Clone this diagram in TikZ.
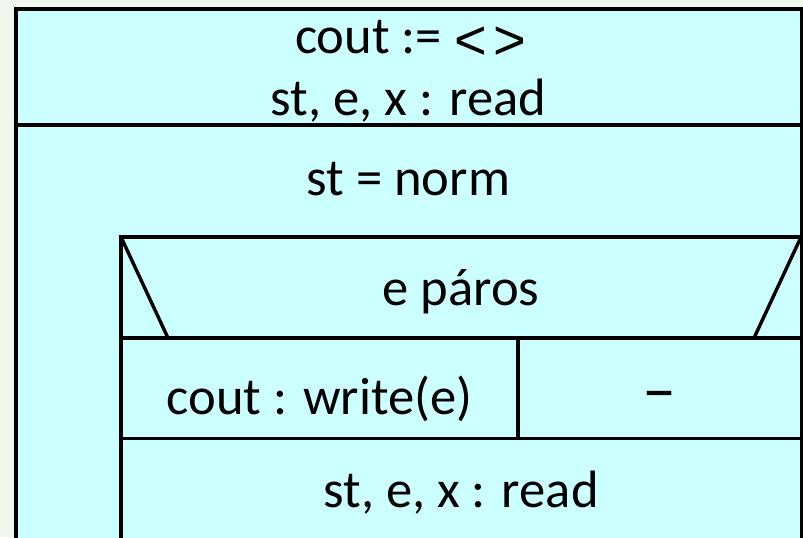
\documentclass[tikz,border=0pt]{standalone}
\usepackage{fontspec}
\setmainfont{Carlito}
\newfontfamily\bracketfont{Liberation Sans}
\definecolor{paper}{HTML}{F2F7EE}
\definecolor{cell}{HTML}{CCFFFF}
% angle brackets and dash in a lighter, larger form
\newcommand{\angl}[1]{\makebox[0.44em]{\raisebox{-3.2pt}{\bracketfont\fontsize{28}{32}\selectfont #1}}}
\newcommand{\nodash}{\raisebox{0.02em}{\scalebox{1.3}{–}}}
\begin{document}
\begin{tikzpicture}[x=0.5pt,y=-0.5pt,
  frame/.style={line width=2pt},
  rule/.style={line width=1.7pt},
  lbl/.style={anchor=base, inner sep=0pt, font=\fontsize{26.3}{30}\selectfont}]
\useasboundingbox (0,0) rectangle (803,537);
\clip (0,0) rectangle (803,537);
\fill[paper] (0,0) rectangle (803,537);
\fill[cell] (16,9) rectangle (810,545);
% outer block with its initialisation part
\draw[frame] (16,545) -- (16,9) -- (801.5,9) -- (801.5,545);
\draw[frame] (16,125) -- (801.5,125);
% loop body: selection and read step
\draw[rule] (121,545) -- (121,237) -- (801.5,237);
\draw[rule] (121,338) -- (801.5,338);
\draw[rule] (121,438.5) -- (801.5,438.5);
\draw[rule] (518,338) -- (518,438.5);
\draw[rule] (121,237) -- (168,338);
\draw[rule] (801,237) -- (754,338);
% texts
\node[lbl] (init1) at (408.5,53) {cout :=\hspace{0.32em}\angl{<}\hspace{0.32em}\angl{>}};
\node[lbl] (init2) at (408.5,115) {st, e, x : read};
\node[lbl] (cond) at (408.5,195) {st = norm};
\node[lbl] (branch) at (461,305) {e páros};
\node[lbl] (yes) at (319.5,414) {cout : write(e)};
\node[lbl] (no) at (659.5,414) {\nodash};
\node[lbl] (next) at (461,507) {st, e, x : read};
\end{tikzpicture}
\end{document}
